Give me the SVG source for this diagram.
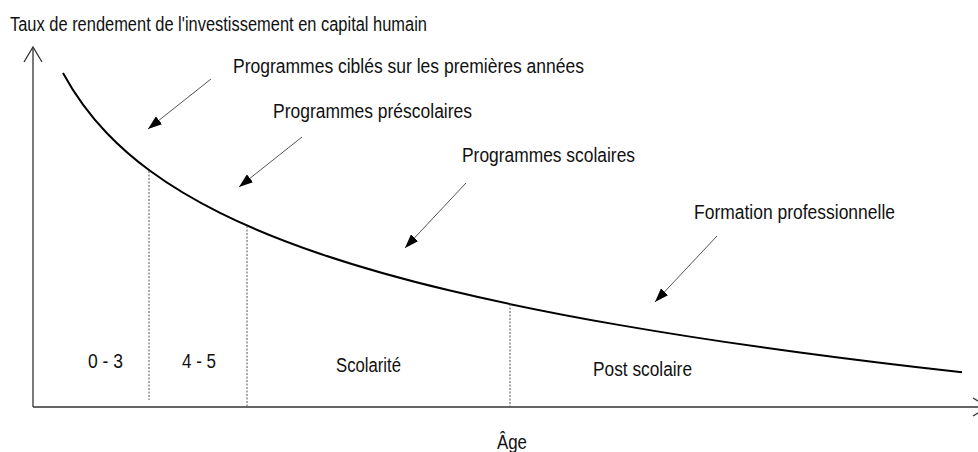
<svg xmlns="http://www.w3.org/2000/svg" width="978" height="452" viewBox="0 0 978 452">
  <style>
    text { font-family: "Liberation Sans Narrow", "Liberation Sans", Arial, sans-serif; font-size: 20px; fill: #111; }
    .axis { stroke: #333; stroke-width: 1.3; fill: none; }
    .curve { stroke: #000; stroke-width: 2; fill: none; }
    .div { stroke: #555; stroke-width: 1; stroke-dasharray: 2 1.5; fill: none; }
    .ptr { stroke: #555; stroke-width: 1; fill: none; marker-end: url(#head); }
  </style>
  <defs>
    <marker id="head" viewBox="0 0 14 10" refX="14" refY="5" markerWidth="14" markerHeight="10" markerUnits="userSpaceOnUse" orient="auto">
      <path d="M0,0 L14,5 L0,10 z" fill="#000"/>
    </marker>
  </defs>
  <rect width="978" height="452" fill="#fff"/>

  <g id="axes">
    <line class="axis" x1="33" y1="407" x2="33" y2="47"/>
    <polyline class="axis" points="24,62 33,47 42,62"/>
    <line class="axis" x1="33" y1="407" x2="988" y2="407"/>
    <polyline class="axis" points="973,398 988,407 973,416"/>
  </g>

  <g id="y-title"><text x="10" y="31" textLength="417" lengthAdjust="spacingAndGlyphs">Taux de rendement de l'investissement en capital humain</text></g>
  <g id="x-title"><text x="497" y="449" textLength="30" lengthAdjust="spacingAndGlyphs">Âge</text></g>

  <g id="curve">
    <path class="curve" d="M63,72.95 C77.67,99.96 92.33,117.89 107,133.25 C121.33,148.26 135.67,160.25 150,170.81 C173.33,188 196.67,201.29 220,212.88 C253.33,229.44 286.67,242.38 320,253.68 C363.33,268.37 406.67,280.18 450,290.58 C506.67,304.18 563.33,315.29 620,325.13 C680,335.55 740,344.48 800,352.54 C854,359.79 908,366.32 962,372.35"/>
  </g>

  <g id="dividers">
    <line class="div" x1="149" y1="171" x2="149" y2="400"/>
    <line class="div" x1="247" y1="226" x2="247" y2="407"/>
    <line class="div" x1="510" y1="304" x2="510" y2="407"/>
  </g>

  <g id="period-0-3"><text x="88" y="368" textLength="35" lengthAdjust="spacingAndGlyphs">0 - 3</text></g>
  <g id="period-4-5"><text x="182" y="368" textLength="34" lengthAdjust="spacingAndGlyphs">4 - 5</text></g>
  <g id="period-scolarite"><text x="336" y="372" textLength="65" lengthAdjust="spacingAndGlyphs">Scolarité</text></g>
  <g id="period-post"><text x="593" y="376" textLength="99" lengthAdjust="spacingAndGlyphs">Post scolaire</text></g>

  <g id="label-premieres"><text x="233" y="73" textLength="351" lengthAdjust="spacingAndGlyphs">Programmes ciblés sur les premières années</text></g>
  <g id="label-prescolaires"><text x="273" y="118" textLength="199" lengthAdjust="spacingAndGlyphs">Programmes préscolaires</text></g>
  <g id="label-scolaires"><text x="462" y="162" textLength="173" lengthAdjust="spacingAndGlyphs">Programmes scolaires</text></g>
  <g id="label-formation"><text x="694" y="219" textLength="201" lengthAdjust="spacingAndGlyphs">Formation professionnelle</text></g>

  <g id="connectors">
    <line class="ptr" x1="211" y1="79" x2="148" y2="129"/>
    <line class="ptr" x1="302" y1="137" x2="239" y2="187"/>
    <line class="ptr" x1="466" y1="183" x2="405" y2="248"/>
    <line class="ptr" x1="717" y1="236" x2="655" y2="302"/>
  </g>
</svg>
